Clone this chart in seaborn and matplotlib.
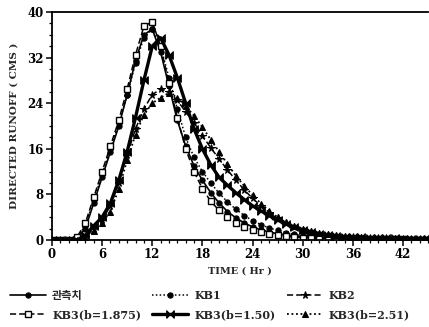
import numpy as np
import pandas as pd
import seaborn as sns
import matplotlib.pyplot as plt
from matplotlib.ticker import MultipleLocator

sns.set_theme(style="ticks")
plt.rcParams['font.family'] = ['DejaVu Serif', 'Noto Sans CJK KR']

# Time axis (hours)
hours = list(range(46))

# Direct runoff hydrographs (CMS)
observed = [0, 0, 0, 0.3, 2.0, 6.5, 11, 15.5, 20, 25.5,
            31.5, 36, 37, 33, 27, 21, 16.5, 13, 10.5, 8.3,
            6.5, 5.0, 3.9, 3.0, 2.3, 1.8, 1.4, 1.1, 0.9, 0.7,
            0.6, 0.5, 0.45, 0.4, 0.35, 0.3, 0.3, 0.25, 0.25, 0.2,
            0.2, 0.2, 0.15, 0.15, 0.1, 0.1]
kb1 = [0, 0, 0, 0.4, 2.5, 7, 11.5, 16, 20.5, 25.5,
       31, 35.5, 37, 34, 28.5, 23, 18, 14.5, 12, 10,
       8.2, 6.7, 5.4, 4.3, 3.4, 2.7, 2.1, 1.7, 1.3, 1.0,
       0.8, 0.65, 0.55, 0.45, 0.4, 0.35, 0.3, 0.3, 0.25, 0.25,
       0.2, 0.2, 0.2, 0.15, 0.15, 0.1]
kb2 = [0, 0, 0, 0, 0.5, 2, 3.5, 6, 10, 15,
       19.5, 23, 25.5, 26.5, 26, 24.5, 22.5, 20.5, 18.3, 16.2,
       14.2, 12.3, 10.5, 8.8, 7.3, 6, 4.8, 3.8, 3, 2.3,
       1.8, 1.4, 1.1, 0.9, 0.7, 0.6, 0.5, 0.4, 0.35, 0.3,
       0.3, 0.25, 0.25, 0.2, 0.2, 0.2]
kb3_b1875 = [0, 0, 0, 0.5, 3, 7.5, 12, 16.5, 21, 26.5,
             32.5, 37.5, 38.3, 34, 27.5, 21.5, 16, 12, 9, 6.8,
             5.2, 4.0, 3.0, 2.3, 1.8, 1.4, 1.1, 0.85, 0.65, 0.5,
             0.4, 0.35, 0.3, 0.25, 0.2, 0.2, 0.15, 0.15, 0.1, 0.1,
             0.1, 0.1, 0.1, 0.05, 0.05, 0.05]
kb3_b150 = [0, 0, 0, 0, 0.8, 2.5, 4, 6.5, 10.5, 15.5,
            21.5, 28, 34, 35.5, 32.5, 28.5, 24, 19.5, 16, 13.2,
            11, 9.6, 8.3, 7.1, 6, 5.1, 4.3, 3.5, 2.8, 2.2,
            1.8, 1.4, 1.1, 0.9, 0.75, 0.6, 0.5, 0.45, 0.4, 0.35,
            0.3, 0.3, 0.25, 0.25, 0.2, 0.2]
kb3_b251 = [0, 0, 0, 0, 0.3, 1.5, 3, 5, 9, 14,
            18.5, 22, 24, 25, 25.8, 25, 23.5, 21.8, 19.8, 17.6,
            15.5, 13.3, 11.3, 9.5, 7.9, 6.4, 5.1, 4.0, 3.1, 2.4,
            1.9, 1.5, 1.2, 1.0, 0.8, 0.65, 0.55, 0.45, 0.4, 0.35,
            0.3, 0.3, 0.25, 0.25, 0.2, 0.2]

labels = ["관측치", "KB1", "KB2", "KB3(b=1.875)", "KB3(b=1.50)", "KB3(b=2.51)"]
series = [observed, kb1, kb2, kb3_b1875, kb3_b150, kb3_b251]

bowtie = [(-1, -1), (-1, 1), (1, -1), (1, 1), (-1, -1)]
styles = [
    dict(linestyle='-', lw=1.2, marker='o', ms=3.8, mfc='black'),
    dict(linestyle=(0, (1, 1.5)), lw=1.1, marker='o', ms=3.8, mfc='black'),
    dict(linestyle=(0, (4, 2)), lw=1.1, marker='*', ms=5.5, mfc='black'),
    dict(linestyle=(0, (4, 2)), lw=1.1, marker='s', ms=3.8, mfc='white', mew=1.0),
    dict(linestyle='-', lw=2.4, marker=bowtie, ms=5.5, mfc='black'),
    dict(linestyle=(0, (1, 1.5)), lw=1.3, marker='^', ms=4.5, mfc='black'),
]

fig = plt.figure(figsize=(4.29, 3.27), dpi=100)
ax = fig.add_axes([0.121, 0.266, 0.877, 0.697])

df = pd.DataFrame({"hour": hours})
for lab, vals, st in zip(labels, series, styles):
    df[lab] = vals
    sns.lineplot(data=df, x="hour", y=lab, ax=ax, color='black', mec='black',
                 label=lab, legend=False, **st)

ax.set_xlim(0, 45)
ax.set_ylim(0, 40)
ax.xaxis.set_major_locator(MultipleLocator(6))
ax.xaxis.set_minor_locator(MultipleLocator(1))
ax.yaxis.set_major_locator(MultipleLocator(8))
ax.yaxis.set_minor_locator(MultipleLocator(2))
ax.tick_params(which='major', direction='out', length=4, width=1.1, colors='black',
               labelsize=8.5, pad=2)
ax.tick_params(which='minor', direction='out', length=2.5, width=0.9, colors='black')
for lbl in ax.get_xticklabels() + ax.get_yticklabels():
    lbl.set_fontweight('bold')
ax.spines['right'].set_visible(False)
for s in ('left', 'bottom', 'top'):
    ax.spines[s].set_color('black')
    ax.spines[s].set_linewidth(1.3)

ax.set_xlabel("TIME ( Hr )", fontsize=7, fontweight='bold', labelpad=4)
ax.set_ylabel("DIRECTED RUNOFF ( CMS )", fontsize=7.5, fontweight='bold', labelpad=6)

handles = ax.get_lines()
order = [0, 3, 1, 4, 2, 5]
fig.legend([handles[i] for i in order], [labels[i] for i in order],
           loc='lower left', bbox_to_anchor=(0.0, -0.01), ncol=3, frameon=False,
           handlelength=3.2, columnspacing=1.0, handletextpad=0.6,
           labelspacing=0.75, prop=dict(weight='bold', size=8,
                                        family=['DejaVu Serif', 'Noto Sans CJK KR']))

fig.savefig("out.png", dpi=100)
